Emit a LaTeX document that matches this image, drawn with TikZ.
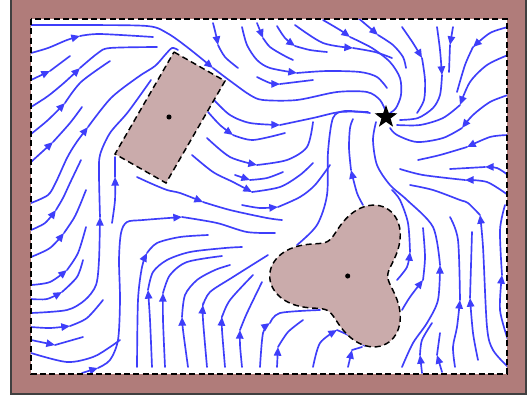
\documentclass[tikz,border=0pt]{standalone}
\usetikzlibrary{arrows.meta,shapes.geometric}
\definecolor{framec}{RGB}{176,124,122}
\definecolor{obstc}{RGB}{202,171,171}
\definecolor{flowc}{RGB}{62,62,250}
\tikzset{
 sl/.style={draw=flowc, line width=1.25pt, line cap=round},
 sla/.style={sl, -{Triangle[length=6.5pt,width=5.5pt]}},
 obstacle/.style={fill=obstc, draw=black, line width=1.1pt, dash pattern=on 4.5pt off 2.8pt},
}
\newcommand\fa[2]{\draw[sla] plot[smooth] coordinates {#1};\draw[sl] plot[smooth] coordinates {#2};}
\newcommand\fn[1]{\draw[sl] plot[smooth] coordinates {#1};}
\begin{document}
\begin{tikzpicture}[x=0.75pt,y=-0.75pt]
\useasboundingbox (0,0) rectangle (531,401);
\fill[framec,draw=black!75,line width=0.8pt] (11,-5) rectangle (526,394);
\fill[white] (31,19) rectangle (507,374);
\begin{scope}
\clip (31,19) rectangle (507,374);
% left region
\fa{(31,25) (80,25) (147,26) (167,33) (187,47) (213,68)}{(213,68) (233,83) (250,95) (263,100) (297,100) (337,92) (367,92) (380,100) (386,112)}
\fa{(31,53) (48,48) (67,40) (80,36)}{(80,36) (100,34) (153,37)}
\fa{(31,80) (50,71)}{(50,71) (70,56)}
\fa{(31,107) (48,96) (65,82) (80,68)}{(80,68) (98,53) (110,48) (157,47)}
\fa{(31,134) (48,120) (65,103)}{(65,103) (81,82) (110,61)}
\fa{(31,162) (53,142)}{(53,142) (70,123) (82,107)}
\fa{(31,203) (48,195) (56,182) (67,158) (76,143) (88,127)}{(88,127) (111,98) (138,77) (155,66) (165,55) (172,48) (178,50)}
\fa{(31,230) (45,223) (56,210)}{(56,210) (63,198) (70,183) (81,160)}
\fa{(31,257) (50,248) (64,233)}{(64,233) (74,218) (80,205) (86,190)}
\fa{(31,285) (50,282) (67,270)}{(67,270) (78,253) (86,227)}
\fa{(31,299) (47,299) (62,292)}{(62,292) (77,277) (83,260)}
\fa{(31,313) (67,310) (85,300) (96,285) (99,260) (100,217)}{(100,217) (99,175) (100,155) (110,133) (128,112) (151,80)}
\fa{(31,327) (50,328) (70,326)}{(70,326) (87,318) (103,300)}
\fa{(31,340) (55,345)}{(55,345) (83,337)}
\fn{(31,353) (67,362) (93,357) (110,347) (120,340)}
\draw[sla] plot[smooth] coordinates {(82,373) (98,368)};
\fa{(98,368) (110,360) (118,340) (120,300) (119,260) (121,233) (127,222) (143,220) (182,217)}{(182,217) (217,223) (247,232) (275,233)}
\fa{(112,223) (115,200) (115,177)}{(115,177) (115,157)}
% top middle
\fa{(213,23) (216,35) (218,45)}{(218,45) (225,57) (238,68)}
\fa{(242,27) (247,45) (257,60) (270,68) (297,73)}{(297,73) (327,71) (360,72) (377,77) (387,88)}
\fa{(257,23) (263,38)}{(263,38) (270,47) (283,55) (293,60)}
\fa{(257,77) (270,83) (280,84)}{(280,84) (313,80)}
\fa{(277,26) (285,38) (295,46)}{(295,46) (310,50) (327,52)}
\fa{(295,25) (323,43) (353,48)}{(353,48) (375,52) (392,58)}
\fa{(323,20) (340,30) (350,37)}{(350,37) (372,48) (390,62) (400,78) (401,95) (396,108) (390,113)}
\fa{(357,17) (370,28) (378,35)}{(378,35) (393,45) (403,57) (406,68)}
% top right
\fa{(402,27) (413,43) (422,58)}{(422,58) (425,80) (424,100) (417,113)}
\fa{(437,27) (440,50) (442,75)}{(442,75) (440,95) (433,108) (418,118) (400,120)}
\fa{(453,27) (450,45)}{(450,45) (449,72)}
\fa{(508,27) (490,33) (473,47)}{(473,47) (465,65) (457,92)}
\fa{(508,55) (487,65) (470,82) (460,105)}{(460,105) (443,118) (420,125) (397,125)}
\fa{(508,95) (490,102) (473,115) (462,128)}{(462,128) (443,138) (417,142) (397,135) (390,128)}
\fa{(508,135) (490,137) (467,147)}{(467,147) (440,155) (418,160)}
\fa{(508,175) (497,168) (485,167)}{(485,167) (450,169)}
\fa{(508,195) (487,182) (465,180)}{(465,180) (423,175) (400,169)}
% middle
\fa{(214,100) (230,115) (250,123) (280,125)}{(280,125) (313,118) (340,112) (368,112)}
\fa{(208,112) (220,125) (233,135)}{(233,135) (253,140) (285,133)}
\fa{(207,138) (230,157) (257,165)}{(257,165) (287,160) (307,147) (313,122)}
\fa{(192,155) (213,172) (233,182) (252,192)}{(252,192) (280,187) (300,175) (313,163)}
\fa{(235,175) (250,180)}{(250,180) (267,178) (283,172)}
\fa{(137,177) (150,183) (167,190) (180,193) (203,202)}{(203,202) (230,210) (267,218) (282,220)}
\fa{(242,205) (260,208) (278,207)}{(278,207) (300,197) (315,185) (330,165)}
\fn{(297,245) (317,225) (327,195) (328,152) (333,118) (345,111) (370,113)}
\fa{(363,205) (357,193) (351,170)}{(351,170) (349,148) (350,128) (353,119)}
% bottom
\fa{(137,367) (138,300) (142,267) (147,253)}{(147,253) (157,243) (180,237) (208,235)}
\fa{(152,367) (150,320) (148,290)}{(148,290) (153,272) (167,260) (190,252) (225,248) (242,247)}
\fa{(165,367) (163,320) (163,293)}{(163,293) (170,275) (187,262) (222,256)}
\fa{(188,367) (183,330) (182,317)}{(182,317) (185,295) (197,280) (215,270) (230,265)}
\fa{(207,367) (203,320) (203,305)}{(203,305) (210,292) (233,277) (268,255)}
\fa{(225,367) (222,330) (222,317)}{(222,317) (230,300) (253,275)}
\fa{(242,367) (240,345) (240,330)}{(240,330) (247,313) (262,282)}
\fa{(260,367) (263,333) (270,323)}{(270,323) (280,313) (320,310)}
\fa{(277,367) (278,347)}{(278,347) (288,332) (303,320)}
\fa{(313,367) (320,343) (337,330)}{(337,330) (350,336) (365,346)}
\fa{(348,367) (352,350)}{(352,350) (362,347)}
% right of trefoil
\fa{(397,280) (407,267) (410,252)}{(410,252) (408,223) (400,200) (392,190)}
\fa{(402,310) (410,297) (423,280)}{(423,280) (425,257) (423,228)}
\fa{(402,367) (413,343) (427,323) (438,300) (440,265)}{(440,265) (433,227) (407,200) (390,185) (377,165) (373,140) (376,122)}
\fa{(455,367) (453,347) (457,327) (460,300)}{(460,300) (458,240) (450,217)}
\fa{(478,360) (473,333) (470,298)}{(470,298) (472,232)}
\fa{(422,373) (420,355)}{(420,355) (422,340) (432,323)}
\fa{(442,372) (437,355)}{(437,355) (440,333)}
\fa{(508,367) (493,350) (487,327) (483,247) (480,215)}{(480,215) (468,203) (460,200) (433,190) (410,185)}
\fa{(508,340) (500,310) (502,275)}{(502,275) (500,230) (505,205)}
\end{scope}
\draw[black,line width=1.1pt,dash pattern=on 4.5pt off 2.5pt] (31,19) rectangle (507,374);
\draw[obstacle] (174,52)--(225,81)--(166,183)--(115,154)--cycle;
\draw[obstacle] plot[domain=0:360,samples=150,smooth] ({347.7+(59-19*cos(3*\x))*cos(\x)},{276-(59-19*cos(3*\x))*sin(\x)}) -- cycle;
\fill (169,117) circle (1.9pt);
\fill (347.7,276) circle (1.9pt);
\node[star,star points=5,star point ratio=2.5,fill=black,minimum size=18pt,inner sep=0pt] (st) at (386,117) {};
\end{tikzpicture}
\end{document}
